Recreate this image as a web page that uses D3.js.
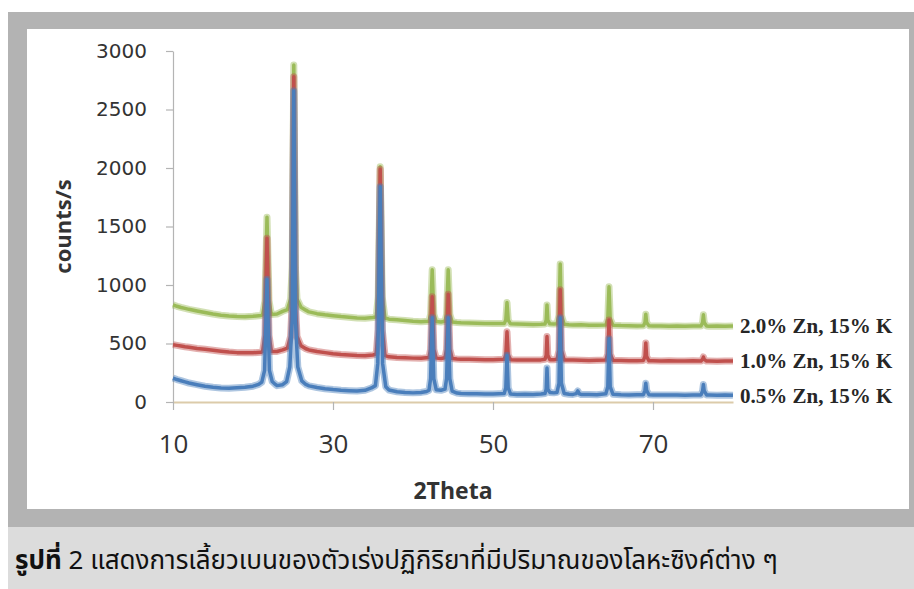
<!DOCTYPE html>
<html>
<head>
<meta charset="utf-8">
<script src="https://cdn.jsdelivr.net/npm/d3@7"></script>
<style>
  body { margin: 0; background: #fff; }
  svg { display: block; }
</style>
</head>
<body>
<div id="chart"></div>
<script>
// --------------------------------------
//  Data
// --------------------------------------

const seriesNames = ["2.0% Zn, 15% K", "1.0% Zn, 15% K", "0.5% Zn, 15% K"];
const seriesColors = ["#9bbb59", "#c0504d", "#4a7ebb"];
const xTicks = [10, 30, 50, 70];
const yTicks = [0, 500, 1000, 1500, 2000, 2500, 3000];
const xTitle = "2Theta";
const yTitle = "counts/s";
const captionBold = "รูปที่";
const captionText = " 2 แสดงการเลี้ยวเบนของตัวเร่งปฏิกิริยาที่มีปริมาณของโลหะซิงค์ต่าง ๆ";

// [2theta, counts/s]
const zn20 = [[10,830],[10.5,818],[11,808],[11.5,800],[12,792],[13,778],[14,765],[15,752],[16,742],[17,735],[18,730],[19,728],[20,733],[21,740],
  [21.2,745],[21.5,866],[21.75,1580],[22,866],[22.3,748],
  [23,752],[23.7,775],[24.3,790],[24.7,880],[24.9,1150],[25.1,2880],[25.3,1150],[25.5,880],[26,810],[26.6,785],[27,770],[28,755],[29,745],[30,738],[31,730],[32,724],[33,718],[34,716],[35,722],
  [35.4,728],[35.65,900],[35.9,2010],[36.15,900],[36.5,718],
  [37,708],[38,702],[39,696],[40,690],[41,686],[42,690],[42.2,750],[42.4,1130],[42.6,750],[42.9,688],[43.5,684],[44,690],[44.2,750],[44.4,1130],[44.6,750],[44.9,684],
  [45.5,680],[46,678],[47,676],[48,674],[49,672],[50,670],[51.4,670],[51.6,700],[51.75,850],[51.9,700],[52.2,668],[53,666],[54,665],[55,662],[56,664],
  [56.5,666],[56.65,700],[56.75,830],[56.85,700],[57.1,668],[57.6,666],[58,668],[58.25,740],[58.4,1180],[58.55,740],[58.9,664],[59.5,660],[60,658],[61,660],[62,656],[63,655],
  [64.1,658],[64.35,710],[64.5,985],[64.65,710],[65,657],[66,653],[67,652],[68,650],[68.8,652],[69,680],[69.1,750],[69.2,680],[69.5,652],
  [70,650],[71,650],[72,648],[73,650],[74,648],[75,650],[76,650],[76.2,680],[76.3,745],[76.4,680],[76.7,650],[77,648],[78,650],[79,648],[80,650]];

const zn10 = [[10,490],[10.5,484],[11,478],[11.5,472],[12,468],[13,458],[14,450],[15,442],[16,434],[17,427],[18,422],[19,420],[20,421],[21,425],
  [21.2,430],[21.5,570],[21.75,1400],[22,570],[22.3,432],
  [23,432],[23.7,445],[24.3,460],[24.7,560],[24.9,850],[25.1,2780],[25.3,850],[25.5,560],[26,480],[26.6,455],[27,445],[28,432],[29,422],[30,412],[31,406],[32,402],[33,398],[34,396],[35,402],
  [35.4,410],[35.65,620],[35.9,1990],[36.15,620],[36.5,396],
  [37,386],[38,381],[39,378],[40,375],[41,373],[42,380],[42.2,450],[42.4,900],[42.6,450],[42.9,375],[43.5,372],[44,378],[44.2,450],[44.4,920],[44.6,450],[44.9,372],
  [45.5,368],[46,366],[47,365],[48,364],[49,362],[50,362],[51.4,365],[51.6,400],[51.75,600],[51.9,400],[52.2,362],[53,360],[54,360],[55,358],[56,360],
  [56.5,365],[56.65,400],[56.75,560],[56.85,400],[57.1,362],[57.6,362],[58,365],[58.25,440],[58.4,960],[58.55,440],[58.9,360],[59.5,358],[60,358],[61,356],[62,355],[63,356],
  [64.1,358],[64.35,410],[64.5,700],[64.65,410],[65,355],[66,354],[67,352],[68,353],[68.8,355],[69,390],[69.1,505],[69.2,390],[69.5,352],
  [70,352],[71,350],[72,352],[73,350],[74,350],[75,352],[76,350],[76.2,365],[76.3,385],[76.4,365],[76.7,350],[77,350],[78,348],[79,350],[80,350]];

const zn05 = [[10,205],[10.5,192],[11,182],[11.5,172],[12,162],[13,148],[14,135],[15,126],[16,120],[17,118],[18,122],[19,126],[20,135],[20.7,150],
  [21.1,170],[21.45,270],[21.75,1050],[22.05,270],[22.4,175],
  [22.8,150],[23,140],[23.7,148],[24.2,175],[24.6,300],[24.9,700],[25.1,2660],[25.3,700],[25.6,300],[26.1,180],[26.6,150],[27,138],[28,124],[29,114],[30,106],[31,100],[32,97],[33,95],[34,100],[34.8,120],
  [35.3,140],[35.6,330],[35.9,1840],[36.2,330],[36.6,130],
  [37,102],[38,88],[39,82],[40,78],[41,82],[41.7,90],[42,100],[42.2,200],[42.4,720],[42.6,200],[42.9,105],[43.5,100],[44,110],[44.2,200],[44.4,720],[44.6,200],[44.9,92],
  [45.5,76],[46,72],[47,70],[48,70],[49,68],[50,68],[51.4,72],[51.6,120],[51.75,400],[51.9,120],[52.2,68],[53,65],[54,66],[55,65],[56,68],
  [56.5,72],[56.65,110],[56.75,290],[56.85,110],[57.1,82],[57.6,78],[58,82],[58.25,160],[58.4,720],[58.55,160],[58.9,72],[59.5,66],[60,65],[60.4,72],[60.6,95],[60.8,70],[61,65],[62,64],[63,62],
  [64.1,70],[64.35,130],[64.5,540],[64.65,130],[65,66],[66,62],[67,60],[68,62],[68.8,63],[69,100],[69.1,160],[69.2,100],[69.5,62],
  [70,60],[71,60],[72,60],[73,60],[74,58],[75,60],[76,60],[76.2,95],[76.3,150],[76.4,95],[76.7,60],[77,60],[78,58],[79,60],[80,58]];

// drawing order: green, red, blue on top
const series = [zn20, zn10, zn05];

// --------------------------------------
//  Canvas
// --------------------------------------

const width = 914;
const height = 589;

const svg = d3.select("#chart")
  .append("svg")
    .attr("width", width)
    .attr("height", height);

// gray frame, white plot panel, caption band
svg.append("rect").attr("x", 8).attr("y", 12).attr("width", 906).attr("height", 515).attr("fill", "#b3b3b3");
svg.append("rect").attr("x", 27).attr("y", 29).attr("width", 882).attr("height", 480).attr("fill", "#ffffff");
svg.append("rect").attr("x", 8).attr("y", 527).attr("width", 906).attr("height", 62).attr("fill", "#dcdcdc");

// --------------------------------------
//  Scales
// --------------------------------------

const x = d3.scaleLinear().domain([10, 80]).range([173, 733]);
const y = d3.scaleLinear().domain([0, 3000]).range([402, 51]);

// --------------------------------------
//  Axes
// --------------------------------------

const yAxis = svg.append("g")
  .attr("transform", `translate(${x(10)},0)`)
  .call(d3.axisLeft(y).tickValues(yTicks).tickFormat(d3.format("d")).tickSize(7).tickSizeOuter(0).tickPadding(19));

yAxis.select(".domain").attr("stroke", "#b4b4b4").attr("stroke-width", 1.2);
yAxis.selectAll(".tick line").attr("stroke", "#b4b4b4").attr("stroke-width", 1.2);
yAxis.selectAll(".tick text")
  .attr("font-family", "'DejaVu Sans', sans-serif")
  .attr("font-size", 20)
  .attr("fill", "#333");

const xAxis = svg.append("g")
  .attr("transform", `translate(0,${y(0)})`)
  .call(d3.axisBottom(x).tickValues(xTicks).tickSize(8).tickSizeOuter(0).tickPadding(25));

xAxis.select(".domain").attr("stroke", "#dccbaa").attr("stroke-width", 2);
xAxis.selectAll(".tick line").attr("stroke", "#b4b4b4").attr("stroke-width", 1.2);
xAxis.selectAll(".tick text")
  .attr("font-family", "'Open Sans', sans-serif")
  .attr("font-size", 26)
  .attr("fill", "#333");

// axis titles
svg.append("text")
  .text(xTitle)
  .attr("x", (x(10) + x(80)) / 2)
  .attr("y", 491)
  .attr("dy", "0.35em")
  .attr("text-anchor", "middle")
  .attr("font-family", "'Open Sans', sans-serif")
  .attr("font-weight", "bold")
  .attr("font-size", 23)
  .attr("fill", "#333");

svg.append("text")
  .text(yTitle)
  .attr("transform", `translate(63,${(y(0) + y(3000)) / 2}) rotate(-90)`)
  .attr("dy", "0.35em")
  .attr("text-anchor", "middle")
  .attr("font-family", "'Open Sans', sans-serif")
  .attr("font-weight", "bold")
  .attr("font-size", 22)
  .attr("fill", "#333");

// --------------------------------------
//  Lines
// --------------------------------------

const line = d3.line()
  .x((d) => x(d[0]))
  .y((d) => y(d[1]));

const lines = svg.append("g");

series.forEach((s, i) => {
  // soft halo gives the noisy band look
  lines.append("path")
    .datum(s)
    .attr("d", line)
    .attr("fill", "none")
    .attr("stroke", seriesColors[i])
    .attr("stroke-opacity", 0.45)
    .attr("stroke-width", 7)
    .attr("stroke-linejoin", "round");
  lines.append("path")
    .datum(s)
    .attr("d", line)
    .attr("fill", "none")
    .attr("stroke", seriesColors[i])
    .attr("stroke-width", 3.5)
    .attr("stroke-linejoin", "round");
});

// series labels at the line ends
svg.append("g")
  .selectAll("text")
  .data(series)
  .join("text")
    .text((d, i) => seriesNames[i])
    .attr("x", 740)
    .attr("y", (d) => y(d[d.length - 1][1]))
    .attr("dy", "0.35em")
    .attr("font-family", "'Liberation Serif', serif")
    .attr("font-weight", "bold")
    .attr("font-size", 21)
    .attr("fill", "#262626");

// --------------------------------------
//  Caption
// --------------------------------------

const caption = svg.append("text")
  .attr("x", 15)
  .attr("y", 569)
  .attr("font-family", "'Noto Sans Thai', 'Noto Sans', 'DejaVu Sans', sans-serif")
  .attr("font-size", 26)
  .attr("fill", "#111");

caption.append("tspan").attr("font-weight", "bold").text(captionBold);
caption.append("tspan").text(captionText);

</script>
</body>
</html>
